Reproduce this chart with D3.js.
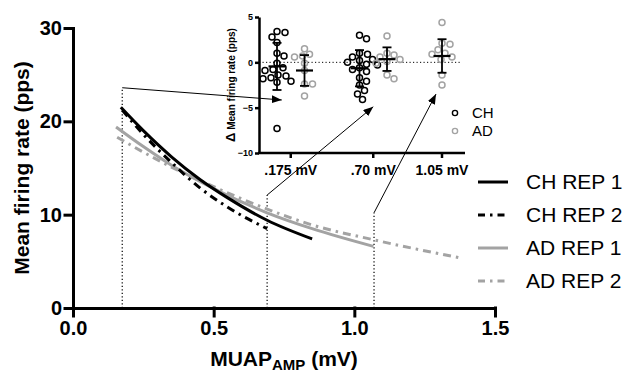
<!DOCTYPE html>
<html>
<head>
<meta charset="utf-8">
<script src="https://cdn.jsdelivr.net/npm/d3@7"></script>
<style>
  body { margin: 0; background: #fff; }
  svg { font-family: "Liberation Sans", Arial, sans-serif; }
</style>
</head>
<body>
<script>
// main plot: fitted curves (x in mV, y in pps)
var chRep1 = [[0.17, 21.5], [0.25, 19.0], [0.35, 16.2], [0.45, 13.8], [0.55, 11.8], [0.69, 9.4], [0.85, 7.4]];
var chRep2 = [[0.175, 21.2], [0.25, 18.6], [0.35, 15.6], [0.45, 12.9], [0.55, 10.8], [0.69, 8.5]];
var adRep1 = [[0.153, 19.4], [0.25, 17.3], [0.35, 15.3], [0.52, 12.5], [0.69, 10.2], [0.85, 8.5], [1.068, 6.6]];
var adRep2 = [[0.157, 18.3], [0.25, 16.7], [0.35, 15.1], [0.5, 13.0], [0.69, 10.6], [0.85, 8.9], [1.07, 7.3], [1.37, 5.4]];
var seriesNames = ["CH REP 1", "CH REP 2", "AD REP 1", "AD REP 2"];
var xTicks = [0, 0.5, 1.0, 1.5];
var yTicks = [0, 10, 20, 30];

// reference amplitudes marked with dotted lines + arrows
var refAmps = [0.175, 0.69, 1.07];
var refTops = [23.6, 12.1, 10.2];
var arrowEnds = [-4.15, -4.9, -3.5];

// inset: change in mean firing rate
var insetCols = ["CH .175", "AD .175", "CH .70", "AD .70", "AD 1.05"];
var ch175 = [3.4, 3.3, 2.8, 2.2, 1.0, 0.7, -0.1, -0.6, -0.8, -0.9, -1.4, -1.5, -1.7, -1.8, -2.1, -2.2, -7.3];
var ad175 = [1.5, 0.9, 0.7, 0.6, -0.1, -0.9, -2.4, -2.4, -3.7];
var ch70 = [3.0, 2.6, 1.0, 0.9, 0.6, 0.3, 0.2, 0.0, -0.2, -0.3, -0.6, -0.8, -1.0, -1.7, -2.1, -2.5, -3.1, -3.5, -4.1];
var ad70 = [2.9, 1.0, 0.8, 0.6, 0.3, 0.1, -0.1, -1.4, -1.8];
var ad105 = [4.4, 2.1, 2.0, 1.4, 1.0, 0.9, 0.6, 0.3, -1.4, -2.5];
var insetMeans = [-0.45, -0.9, -0.65, 0.35, 0.7];
var insetSds = [2.6, 1.7, 2.0, 1.3, 1.85];
var insetTickLabels = [".175 mV", ".70 mV", "1.05 mV"];
var insetYTicks = [5, 0, -5, -10];

var black = "#000", grey = "#a3a3a3";

var svg = d3.select("body").append("svg")
    .attr("width", 633)
    .attr("height", 377);

svg.append("defs").append("marker")
    .attr("id", "arrow")
    .attr("markerUnits", "userSpaceOnUse")
    .attr("markerWidth", 10).attr("markerHeight", 8)
    .attr("refX", 10).attr("refY", 4)
    .attr("orient", "auto")
  .append("path")
    .attr("d", "M0,0L10,4L0,8Z")
    .attr("fill", black);

// ---- main chart ----
var x = d3.scaleLinear().domain([0, 1.5]).range([73, 495]);
var y = d3.scaleLinear().domain([0, 30]).range([308, 28]);

var xAxis = d3.axisBottom(x).tickValues(xTicks).tickFormat(d3.format(".1f"))
    .tickSize(8).tickSizeOuter(0).tickPadding(5);
var yAxis = d3.axisLeft(y).tickValues(yTicks).tickFormat(d3.format("d"))
    .tickSize(8).tickSizeOuter(0).tickPadding(3);

function styleAxis(g, size) {
  g.selectAll("path, line").attr("stroke", black).attr("stroke-width", 3).attr("stroke-linecap", "square");
  g.selectAll("text").attr("fill", black).attr("font-size", size).attr("font-weight", "bold");
}

svg.append("g")
    .attr("transform", "translate(0," + y(0) + ")")
    .call(xAxis)
    .call(styleAxis, 20);

svg.append("g")
    .attr("transform", "translate(" + x(0) + ",0)")
    .call(yAxis)
    .call(styleAxis, 20);

svg.append("text")
    .attr("transform", "translate(29," + 168 + ") rotate(-90)")
    .attr("text-anchor", "middle")
    .attr("font-size", 21)
    .attr("font-weight", "bold")
    .text("Mean firing rate  (pps)");

var xl = svg.append("text")
    .attr("x", 284).attr("y", 366)
    .attr("text-anchor", "middle")
    .attr("font-size", 21)
    .attr("font-weight", "bold");
xl.append("tspan").text("MUAP");
xl.append("tspan").attr("font-size", 15).attr("dy", 4).text("AMP");
xl.append("tspan").attr("dy", -4).text(" (mV)");

// dotted reference lines and arrows into the inset
var insetY = d3.scaleLinear().domain([-10, 5]).range([153, 17]);
var insetX = d3.scalePoint()
    .domain(["CH .175", "AD .175", "gap1", "CH .70", "AD .70", "gap2", "AD 1.05"])
    .range([277, 442]);
var tickX = [
  (insetX("CH .175") + insetX("AD .175")) / 2,
  (insetX("CH .70") + insetX("AD .70")) / 2,
  insetX("AD 1.05")
];
var arrowDx = [-9, 0, -6];

refAmps.forEach(function(a, i) {
  svg.append("line")
      .attr("x1", x(a)).attr("x2", x(a))
      .attr("y1", y(0)).attr("y2", y(refTops[i]))
      .attr("stroke", black).attr("stroke-width", 1.2)
      .attr("stroke-dasharray", "1.2,2.3");
  svg.append("line")
      .attr("x1", x(a)).attr("y1", y(refTops[i]))
      .attr("x2", tickX[i] + arrowDx[i]).attr("y2", insetY(arrowEnds[i]))
      .attr("stroke", black).attr("stroke-width", 1)
      .attr("marker-end", "url(#arrow)");
});

// curves
var line = d3.line()
    .x(function(d) { return x(d[0]); })
    .y(function(d) { return y(d[1]); })
    .curve(d3.curveMonotoneX);

var series = [
  {name: seriesNames[0], data: chRep1, color: black, dash: null},
  {name: seriesNames[1], data: chRep2, color: black, dash: "8,5,2.5,5"},
  {name: seriesNames[2], data: adRep1, color: grey, dash: null},
  {name: seriesNames[3], data: adRep2, color: grey, dash: "8,5,2.5,5"}
];

svg.selectAll(".curve")
    .data(series.slice().reverse())
  .enter().append("path")
    .attr("class", "curve")
    .attr("d", function(d) { return line(d.data); })
    .attr("fill", "none")
    .attr("stroke", function(d) { return d.color; })
    .attr("stroke-width", 3)
    .attr("stroke-dasharray", function(d) { return d.dash; });

// legend
var legend = svg.selectAll(".legend")
    .data(series)
  .enter().append("g")
    .attr("class", "legend")
    .attr("transform", function(d, i) { return "translate(478," + (182 + i * 33) + ")"; });

legend.append("line")
    .attr("x1", 0).attr("x2", 30)
    .attr("stroke", function(d) { return d.color; })
    .attr("stroke-width", 3)
    .attr("stroke-dasharray", function(d) { return d.dash ? "7,5,2.5,5" : null; });

legend.append("text")
    .attr("x", 48).attr("dy", "0.35em")
    .attr("font-size", 21)
    .text(function(d) { return d.name; });

// ---- inset ----
var inset = svg.append("g");

inset.append("line")
    .attr("x1", 259).attr("x2", 462)
    .attr("y1", insetY(0)).attr("y2", insetY(0))
    .attr("stroke", black).attr("stroke-width", 1)
    .attr("stroke-dasharray", "1.2,2.3");

var iyAxis = d3.axisLeft(insetY).tickValues(insetYTicks).tickFormat(d3.format("d"))
    .tickSize(4).tickSizeOuter(0).tickPadding(2);
inset.append("g")
    .attr("transform", "translate(259,0)")
    .call(iyAxis)
    .call(function(g) {
      g.selectAll("path, line").attr("stroke", black).attr("stroke-width", 2.5);
      g.selectAll("text").attr("font-size", 9).attr("font-weight", "bold").attr("fill", black);
    });

inset.append("line")
    .attr("x1", 258).attr("x2", 465)
    .attr("y1", insetY(-10)).attr("y2", insetY(-10))
    .attr("stroke", black).attr("stroke-width", 2.5);

tickX.forEach(function(tx, i) {
  inset.append("line")
      .attr("x1", tx).attr("x2", tx)
      .attr("y1", insetY(-10)).attr("y2", insetY(-10) + 5)
      .attr("stroke", black).attr("stroke-width", 2.5);
  inset.append("text")
      .attr("x", tx).attr("y", 175)
      .attr("text-anchor", "middle")
      .attr("font-size", 14)
      .attr("font-weight", "bold")
      .text(insetTickLabels[i]);
});

var iyl = inset.append("text")
    .attr("transform", "translate(235,85) rotate(-90)")
    .attr("text-anchor", "middle")
    .attr("font-size", 10)
    .attr("font-weight", "bold");
iyl.append("tspan").attr("font-size", 13).text("\u0394");
iyl.append("tspan").text(" Mean firing rate  (pps)");

// simple beeswarm so the circles don't overlap, like a scatter dot plot
function swarm(values, cx) {
  var placed = [], minD = 7.2;
  values.slice().sort(function(a, b) { return b - a; }).forEach(function(v) {
    var py = insetY(v), best = 0;
    for (var k = 0; k < 60; k++) {
      var off = (k % 2 ? 1 : -1) * Math.ceil(k / 2);
      var ok = placed.every(function(p) {
        return Math.hypot(p.x - (cx + off), p.y - py) >= minD;
      });
      if (ok) { best = off; break; }
    }
    placed.push({x: cx + best, y: py, v: v});
  });
  return placed;
}

var colValues = [ch175, ad175, ch70, ad70, ad105];

insetCols.forEach(function(col, i) {
  var cx = insetX(col);
  var c = col.indexOf("CH") === 0 ? black : grey;
  inset.selectAll(".dot" + i)
      .data(swarm(colValues[i], cx))
    .enter().append("circle")
      .attr("cx", function(d) { return d.x; })
      .attr("cy", function(d) { return d.y; })
      .attr("r", 3)
      .attr("fill", "none")
      .attr("stroke", c)
      .attr("stroke-width", 1.5);

  var m = insetMeans[i], s = insetSds[i];
  var eb = inset.append("g").attr("stroke", black).attr("stroke-width", 1.8);
  eb.append("line").attr("x1", cx).attr("x2", cx).attr("y1", insetY(m + s)).attr("y2", insetY(m - s));
  eb.append("line").attr("x1", cx - 4.5).attr("x2", cx + 4.5).attr("y1", insetY(m + s)).attr("y2", insetY(m + s));
  eb.append("line").attr("x1", cx - 4.5).attr("x2", cx + 4.5).attr("y1", insetY(m - s)).attr("y2", insetY(m - s));
  eb.append("line").attr("x1", cx - 8.5).attr("x2", cx + 8.5).attr("y1", insetY(m)).attr("y2", insetY(m)).attr("stroke-width", 2.2);
});

var ilegend = inset.selectAll(".ileg")
    .data([["CH", black], ["AD", grey]])
  .enter().append("g")
    .attr("transform", function(d, i) { return "translate(455," + (113 + i * 18) + ")"; });
ilegend.append("circle")
    .attr("r", 2.6)
    .attr("fill", "none")
    .attr("stroke", function(d) { return d[1]; })
    .attr("stroke-width", 1.4);
ilegend.append("text")
    .attr("x", 17).attr("dy", "0.36em")
    .attr("font-size", 15)
    .text(function(d) { return d[0]; });
</script>
</body>
</html>
